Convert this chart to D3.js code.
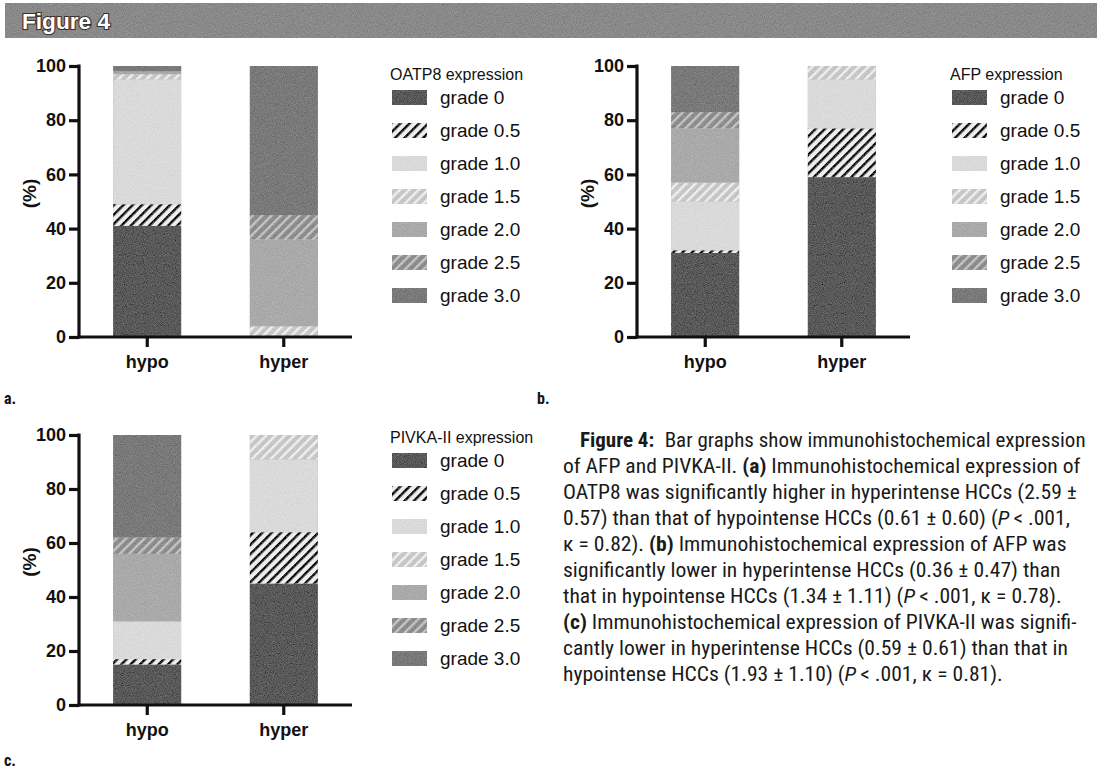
<!DOCTYPE html>
<html>
<head>
<meta charset="utf-8">
<script src="https://cdn.jsdelivr.net/npm/d3@7"></script>
<style>
  body { margin: 0; background: #fff; }
  svg { display: block; }
</style>
</head>
<body>
<div id="chart"></div>
<script>
// Data (percent of lesions per grade)
var grades = ["grade 0", "grade 0.5", "grade 1.0", "grade 1.5", "grade 2.0", "grade 2.5", "grade 3.0"];
var groups = ["hypo", "hyper"];
var yTicks = [0, 20, 40, 60, 80, 100];

var oatp8Hypo  = [41, 8, 46, 2, 1, 0, 2];
var oatp8Hyper = [0, 0, 0, 4, 32, 9, 55];
var afpHypo    = [31, 1, 18, 7, 20, 6, 17];
var afpHyper   = [59, 18, 18, 5, 0, 0, 0];
var pivkaHypo  = [15, 2, 14, 0, 25, 6, 38];
var pivkaHyper = [45, 19, 27, 9, 0, 0, 0];

var captionLines = [
  [["Figure 4:", "b"], ["Bar graphs show immunohistochemical expression", "", 10]],
  [["of AFP and PIVKA-II. ", ""], ["(a)", "b"], [" Immunohistochemical expression of", ""]],
  [["OATP8 was significantly higher in hyperintense HCCs (2.59 \u00b1", ""]],
  [["0.57) than that of hypointense HCCs (0.61 \u00b1 0.60) (", ""], ["P", "i"], ["\u2009< .001,", ""]],
  [["\u03ba = 0.82). ", ""], ["(b)", "b"], [" Immunohistochemical expression of AFP was", ""]],
  [["significantly lower in hyperintense HCCs (0.36 \u00b1 0.47) than", ""]],
  [["that in hypointense HCCs (1.34 \u00b1 1.11) (", ""], ["P", "i"], ["\u2009< .001, \u03ba = 0.78).", ""]],
  [["(c)", "b"], [" Immunohistochemical expression of PIVKA-II was signifi-", ""]],
  [["cantly lower in hyperintense HCCs (0.59 \u00b1 0.61) than that in", ""]],
  [["hypointense HCCs (1.93 \u00b1 1.10) (", ""], ["P", "i"], ["\u2009< .001, \u03ba = 0.81).", ""]]
];

var W = 1097, H = 772;
var sans = "'Liberation Sans', Arial, sans-serif";
var narrow = "'Liberation Sans Narrow', 'Roboto Condensed', 'Liberation Sans', sans-serif";

var svg = d3.select("#chart").append("svg")
  .attr("width", W).attr("height", H)
  .attr("viewBox", "0 0 " + W + " " + H);

var defs = svg.append("defs");

// grainy print look
var grain = defs.append("filter").attr("id", "grain")
  .attr("x", 0).attr("y", 0).attr("width", 1).attr("height", 1);
grain.append("feTurbulence").attr("type", "fractalNoise")
  .attr("baseFrequency", 1.1).attr("numOctaves", 1).attr("seed", 4).attr("result", "n");
grain.append("feColorMatrix").attr("in", "n").attr("type", "matrix")
  .attr("values", "0.33 0.33 0.33 0 0  0.33 0.33 0.33 0 0  0.33 0.33 0.33 0 0  0 0 0 0 1")
  .attr("result", "g");
grain.append("feComposite").attr("in", "SourceGraphic").attr("in2", "g")
  .attr("operator", "arithmetic").attr("k1", 0).attr("k2", 1).attr("k3", 0.4).attr("k4", -0.2)
  .attr("result", "m");
grain.append("feComposite").attr("in", "m").attr("in2", "SourceAlpha").attr("operator", "in");

// fills per grade: solid grays or hatching
var gradeStyle = [
  {bg: "#5a5a5a"},
  {bg: "#eeeeee", line: "#111"},
  {bg: "#dadada"},
  {bg: "#c6c6c6", line: "#efefef"},
  {bg: "#aaaaaa"},
  {bg: "#8c8c8c", line: "#c4c4c4"},
  {bg: "#7a7a7a"}
];

gradeStyle.forEach(function(s, i) {
  if (!s.line) return;
  var p = defs.append("pattern").attr("id", "hatch" + i)
    .attr("patternUnits", "userSpaceOnUse")
    .attr("width", 6.6).attr("height", 6.6)
    .attr("patternTransform", "rotate(45)");
  p.append("rect").attr("width", 6.6).attr("height", 6.6).attr("fill", s.bg);
  p.append("rect").attr("x", 0).attr("y", 0).attr("width", 2.4).attr("height", 6.6).attr("fill", s.line);
});

function gradeFill(i) {
  return gradeStyle[i].line ? "url(#hatch" + i + ")" : gradeStyle[i].bg;
}

// header banner
svg.append("rect").attr("x", 5).attr("y", 3).attr("width", W - 5).attr("height", 35)
  .attr("fill", "#8a8a8a").attr("filter", "url(#grain)");
svg.append("text").attr("x", 22).attr("y", 29)
  .attr("font-family", sans).attr("font-weight", "bold").attr("font-size", 22)
  .attr("textLength", 88).attr("lengthAdjust", "spacingAndGlyphs")
  .attr("fill", "#fff").attr("stroke", "#333").attr("stroke-width", 2.2)
  .attr("paint-order", "stroke")
  .text("Figure 4");

var panels = [
  {title: "OATP8 expression",    hypo: oatp8Hypo, hyper: oatp8Hyper, tag: "a.",
   x0: 79,  xEnd: 352, y0: 337, y1: 66,  legX: 392, legY: 75,  tagX: 4,   tagY: 404},
  {title: "AFP expression",      hypo: afpHypo,   hyper: afpHyper,   tag: "b.",
   x0: 637, xEnd: 910, y0: 337, y1: 66,  legX: 952, legY: 75,  tagX: 537, tagY: 404},
  {title: "PIVKA-II expression", hypo: pivkaHypo, hyper: pivkaHyper, tag: "c.",
   x0: 79,  xEnd: 352, y0: 705, y1: 435, legX: 392, legY: 438, tagX: 4,   tagY: 766}
];

panels.forEach(drawPanel);

function drawPanel(p) {
  var rows = groups.map(function(gname) {
    var row = {group: gname};
    var vals = gname === "hypo" ? p.hypo : p.hyper;
    grades.forEach(function(k, i) { row[k] = vals[i]; });
    return row;
  });
  var series = d3.stack().keys(grades)(rows);

  var x = d3.scaleBand().domain(groups).range([p.x0, p.xEnd])
    .paddingInner(0.5).paddingOuter(0.25);
  var y = d3.scaleLinear().domain([0, 100]).range([p.y0, p.y1]);

  var g = svg.append("g");

  // stacked bars
  var bars = g.append("g").attr("filter", "url(#grain)");
  bars.selectAll("g.layer")
    .data(series)
    .enter().append("g")
    .attr("class", "layer")
    .attr("fill", function(d, i) { return gradeFill(i); })
    .selectAll("rect")
    .data(function(d) { return d; })
    .enter().append("rect")
    .attr("x", function(d) { return x(d.data.group); })
    .attr("width", x.bandwidth())
    .attr("y", function(d) { return y(d[1]); })
    .attr("height", function(d) { return y(d[0]) - y(d[1]); });

  // y axis
  var yAxis = d3.axisLeft(y).tickValues(yTicks).tickSize(10).tickPadding(3);
  var ya = g.append("g").attr("transform", "translate(" + p.x0 + ",0)").call(yAxis);
  ya.select(".domain").attr("stroke", "#111").attr("stroke-width", 3.2)
    .attr("d", "M0," + (p.y0 + 1.5) + "V" + (p.y1 - 1.5));
  ya.selectAll(".tick line").attr("stroke", "#111").attr("stroke-width", 3.2);
  ya.selectAll(".tick text").attr("font-family", sans).attr("font-weight", "bold")
    .attr("font-size", 18).attr("fill", "#111");

  // x axis
  var xAxis = d3.axisBottom(x).tickSize(10).tickPadding(8);
  var xa = g.append("g").attr("transform", "translate(0," + p.y0 + ")").call(xAxis);
  xa.select(".domain").attr("stroke", "#111").attr("stroke-width", 3.2)
    .attr("d", "M" + (p.x0 - 1.5) + ",0H" + p.xEnd);
  xa.selectAll(".tick line").attr("stroke", "#111").attr("stroke-width", 3.2);
  xa.selectAll(".tick text").attr("font-family", sans).attr("font-weight", "bold")
    .attr("font-size", 18).attr("fill", "#111");

  // y title
  g.append("text")
    .attr("transform", "translate(" + (p.x0 - 43) + "," + ((p.y0 + p.y1) / 2 - 8) + ") rotate(-90)")
    .attr("text-anchor", "middle")
    .attr("font-family", sans).attr("font-weight", "bold").attr("font-size", 19)
    .attr("fill", "#111").text("(%)");

  // legend
  var leg = g.append("g").attr("transform", "translate(" + p.legX + "," + p.legY + ")");
  leg.append("text").attr("x", -2).attr("y", 5)
    .attr("font-family", sans).attr("font-size", 16).attr("fill", "#111")
    .text(p.title);
  var items = leg.selectAll("g.item").data(grades).enter().append("g")
    .attr("class", "item")
    .attr("transform", function(d, i) { return "translate(0," + (22 + i * 33) + ")"; });
  items.append("rect").attr("x", 0).attr("y", -7).attr("width", 35).attr("height", 15)
    .attr("fill", function(d, i) { return gradeFill(i); })
    .attr("filter", "url(#grain)");
  items.append("text").attr("x", 48).attr("y", 7)
    .attr("font-family", sans).attr("font-size", 19).attr("fill", "#111")
    .text(function(d) { return d; });

  // panel tag
  svg.append("text").attr("x", p.tagX).attr("y", p.tagY)
    .attr("font-family", narrow).attr("font-weight", "bold").attr("font-size", 16)
    .attr("fill", "#111").text(p.tag);
}

// caption (condensed face, stretched a little to the printed measure)
var cap = svg.append("g");
captionLines.forEach(function(line, li) {
  var x0 = li === 0 ? 580 : 563;
  var sx = li === 0 ? 1.05 : 1.08;
  var t = cap.append("text")
    .attr("transform", "translate(" + x0 + "," + (447 + li * 26) + ") scale(" + sx + ",1)")
    .attr("font-family", narrow).attr("font-size", 20).attr("fill", "#1a1a1a");
  line.forEach(function(seg) {
    var s = t.append("tspan").text(seg[0]);
    if (seg[1] === "b") s.attr("font-weight", "bold");
    if (seg[1] === "i") s.attr("font-style", "italic");
    if (seg[2]) s.attr("dx", seg[2]);
  });
});
</script>
</body>
</html>
